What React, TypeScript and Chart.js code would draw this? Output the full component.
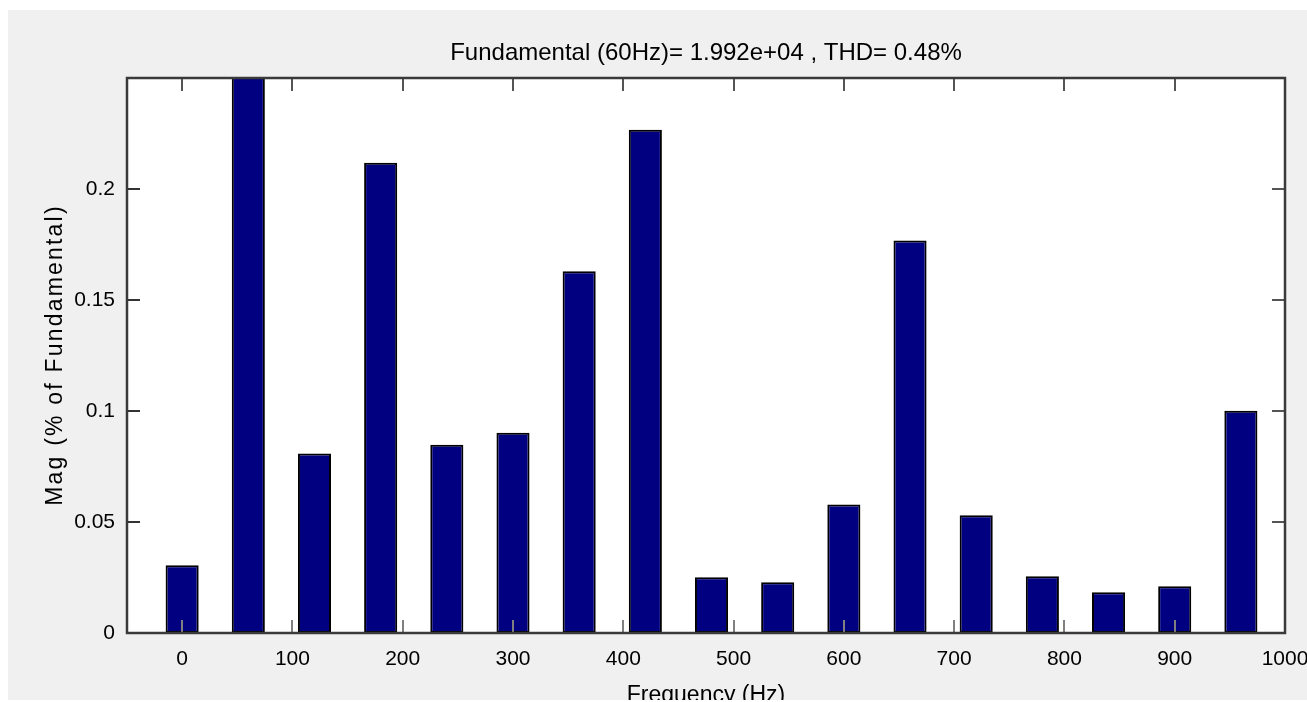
import React, { useEffect, useRef } from "react";
import { Chart, registerables } from "chart.js";

Chart.register(...registerables);

const frequenciesHz = [0, 60, 120, 180, 240, 300, 360, 420, 480, 540, 600, 660, 720, 780, 840, 900, 960];
const magnitudePct = [0.0305, 100, 0.0808, 0.2118, 0.0848, 0.0902, 0.1629, 0.2267, 0.0251, 0.0229, 0.0579, 0.1768, 0.053, 0.0256, 0.0184, 0.0211, 0.1001];
const xTickValues = [0, 100, 200, 300, 400, 500, 600, 700, 800, 900, 1000];
const xTickLabels = ["0", "100", "200", "300", "400", "500", "600", "700", "800", "900", "1000"];
const yTickValues = [0, 0.05, 0.1, 0.15, 0.2];
const yTickLabels = ["0", "0.05", "0.1", "0.15", "0.2"];
const titleText = "Fundamental (60Hz)= 1.992e+04 , THD= 0.48%";
const xAxisLabel = "Frequency (Hz)";
const yAxisLabel = "Mag (% of Fundamental)";

const FONT = '"Liberation Sans", Arial, sans-serif';

const matlabFrame = {
  id: "matlabFrame",
  beforeDraw(chart: any) {
    const { ctx, width, height, chartArea: a } = chart;
    ctx.save();
    ctx.fillStyle = "#f0f0f0";
    ctx.fillRect(0, 0, width, height);
    ctx.fillStyle = "#ffffff";
    ctx.fillRect(a.left, a.top, a.right - a.left, a.bottom - a.top);
    ctx.restore();
  },
  afterDraw(chart: any) {
    const { ctx, chartArea: a, scales } = chart;
    const xs = scales.x;
    const ys = scales.y;
    const tl = 13;
    const seg = (x1: number, y1: number, x2: number, y2: number) => {
      ctx.beginPath();
      ctx.moveTo(x1, y1);
      ctx.lineTo(x2, y2);
      ctx.stroke();
    };
    ctx.save();
    ctx.lineWidth = 2;
    xs.ticks.forEach((t: any) => {
      const px = Math.round(xs.getPixelForValue(t.value));
      if (px <= a.left + 2 || px >= a.right - 2) return;
      ctx.strokeStyle = "#808080";
      seg(px, a.bottom, px, a.bottom - tl);
      ctx.strokeStyle = "#555555";
      seg(px, a.top, px, a.top + tl);
    });
    ys.ticks.forEach((t: any) => {
      const py = Math.round(ys.getPixelForValue(t.value));
      if (py <= a.top + 2 || py >= a.bottom - 2) return;
      ctx.strokeStyle = "#333333";
      seg(a.left, py, a.left + tl, py);
      ctx.strokeStyle = "#555555";
      seg(a.right, py, a.right - tl, py);
    });
    ctx.strokeStyle = "#3a3a3a";
    ctx.lineWidth = 2.5;
    ctx.strokeRect(a.left, a.top, a.right - a.left, a.bottom - a.top);

    const cx = (a.left + a.right) / 2;
    ctx.fillStyle = "#000000";
    ctx.font = "24px " + FONT;
    ctx.textAlign = "center";
    ctx.textBaseline = "middle";
    ctx.fillText(titleText, cx, 43);

    ctx.font = "23px " + FONT;
    ctx.textBaseline = "alphabetic";
    ctx.fillText(xAxisLabel, cx, 692);

    ctx.save();
    ctx.translate(48, 345);
    ctx.rotate(-Math.PI / 2);
    (ctx as any).letterSpacing = "2.2px";
    ctx.textBaseline = "middle";
    ctx.fillText(yAxisLabel, 0, 0);
    ctx.restore();
    ctx.restore();
  },
};

export default function App() {
  const ref = useRef<HTMLCanvasElement>(null);
  useEffect(() => {
    const chart = new Chart(ref.current as HTMLCanvasElement, {
      type: "bar",
      data: {
        datasets: [
          {
            data: frequenciesHz.map((f, i) => ({ x: f, y: magnitudePct[i] })),
            backgroundColor: "#000080",
            borderColor: "#000000",
            borderWidth: 2,
            borderSkipped: false,
            barPercentage: 0.5,
            categoryPercentage: 1,
            clip: 0,
          } as any,
        ],
      },
      options: {
        animation: false,
        responsive: false,
        devicePixelRatio: 1,
        layout: { padding: { top: 68, right: 22, left: 0, bottom: 0 } },
        plugins: {
          legend: { display: false },
          tooltip: { enabled: false },
          title: { display: false },
        },
        scales: {
          x: {
            type: "linear",
            offset: false,
            min: -50,
            max: 1000,
            afterBuildTicks: (s: any) => {
              s.ticks = xTickValues.map((v) => ({ value: v }));
            },
            afterFit: (s: any) => {
              s.height = 67;
              s.paddingLeft = 0;
              s.paddingRight = 0;
            },
            ticks: {
              autoSkip: false,
              maxRotation: 0,
              padding: 14,
              color: "#000000",
              font: { family: FONT, size: 21 },
              callback: (v: any) => {
                const i = xTickValues.indexOf(Number(v));
                return i >= 0 ? xTickLabels[i] : "";
              },
            },
            grid: { display: false, drawTicks: false, offset: false },
            border: { display: false },
          },
          y: {
            type: "linear",
            min: 0,
            max: 0.25,
            afterBuildTicks: (s: any) => {
              s.ticks = yTickValues.map((v) => ({ value: v }));
            },
            afterFit: (s: any) => {
              s.width = 119;
              s.paddingTop = 0;
              s.paddingBottom = 0;
            },
            ticks: {
              padding: 12,
              color: "#000000",
              font: { family: FONT, size: 21 },
              callback: (v: any) => {
                const i = yTickValues.findIndex((t) => Math.abs(t - Number(v)) < 1e-9);
                return i >= 0 ? yTickLabels[i] : "";
              },
            },
            grid: { display: false, drawTicks: false },
            border: { display: false },
          },
        },
      } as any,
      plugins: [matlabFrame],
    });
    return () => chart.destroy();
  }, []);
  return (
    <div style={{ position: "absolute", left: 8, top: 10, width: 1299, height: 690, overflow: "hidden" }}>
      <canvas ref={ref} width={1299} height={690} style={{ display: "block" }} />
    </div>
  );
}
